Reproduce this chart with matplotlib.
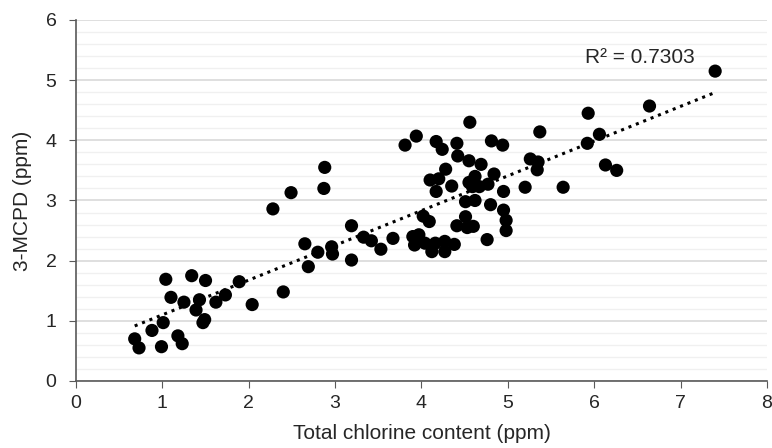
import matplotlib.pyplot as plt
from matplotlib.ticker import MultipleLocator
import numpy as np

plt.rcParams['font.family'] = ['Liberation Sans', 'DejaVu Sans']

# Total chlorine content (ppm)
chlorine = [
    0.68, 0.73, 0.88, 1.01, 0.99, 1.04, 1.10, 1.18, 1.23, 1.25, 1.34, 1.39,
    1.43, 1.47, 1.49, 1.50, 1.62, 1.73, 1.89, 2.04, 2.40, 2.65, 2.69,
    2.28, 2.49, 2.88, 2.87, 2.80, 2.96, 2.97, 3.19, 3.19, 3.33, 3.42, 3.53,
    3.67,
    3.81, 3.94, 4.17, 4.24, 4.41, 4.42, 4.55, 4.69, 4.56, 4.81, 4.94, 4.28,
    4.10, 4.20, 4.17, 4.35, 4.62, 4.59, 4.67, 4.77, 4.84, 4.95, 4.55,
    4.51, 4.62, 4.80, 4.95, 4.98, 4.98, 4.02, 4.09, 4.51, 4.41, 4.53, 4.60,
    4.76, 3.90, 3.97, 3.92, 4.04, 4.12, 4.16, 4.27, 4.27, 4.38,
    5.20, 5.26, 5.35, 5.34, 5.37, 5.64, 5.93, 5.92, 6.06, 6.13, 6.26,
    6.64, 7.40,
]
# 3-MCPD (ppm)
mcpd = [
    0.70, 0.55, 0.84, 0.97, 0.57, 1.69, 1.39, 0.75, 0.62, 1.31, 1.75, 1.18,
    1.35, 0.97, 1.02, 1.67, 1.31, 1.43, 1.65, 1.27, 1.48, 2.28, 1.90,
    2.86, 3.13, 3.55, 3.20, 2.14, 2.23, 2.11, 2.01, 2.58, 2.39, 2.33, 2.19,
    2.37,
    3.92, 4.07, 3.98, 3.85, 3.95, 3.74, 3.66, 3.60, 4.30, 3.99, 3.92, 3.52,
    3.34, 3.36, 3.15, 3.24, 3.40, 3.23, 3.23, 3.27, 3.44, 3.15, 3.30,
    2.98, 3.00, 2.93, 2.84, 2.67, 2.50, 2.74, 2.65, 2.73, 2.58, 2.55, 2.57,
    2.35, 2.40, 2.43, 2.26, 2.29, 2.15, 2.29, 2.32, 2.15, 2.27,
    3.22, 3.69, 3.64, 3.51, 4.14, 3.22, 4.45, 3.95, 4.10, 3.59, 3.50,
    4.57, 5.15,
]
r2_label = 'R² = 0.7303'

x = np.array(chlorine)
y = np.array(mcpd)

fig = plt.figure(figsize=(7.72, 4.48), dpi=100)
ax = fig.add_axes([0.0984, 0.1496, 0.8951, 0.8058])

# Linear trendline
slope, intercept = np.polyfit(x, y, 1)
xt = np.array([x.min(), x.max()])
ax.plot(xt, slope * xt + intercept, color='black', linestyle=(0, (1, 1.6)),
        linewidth=2.2, zorder=2)

ax.scatter(x, y, s=90, color='black', edgecolors='none', zorder=3)

ax.text(5.89, 5.38, r2_label, fontsize=15, color='#262626', va='center')

ax.set_xlim(0, 8)
ax.set_ylim(0, 6)
ax.xaxis.set_major_locator(MultipleLocator(1))
ax.yaxis.set_major_locator(MultipleLocator(1))
ax.yaxis.set_minor_locator(MultipleLocator(0.2))

ax.grid(axis='y', which='minor', color='#f0f0f0', linewidth=1, zorder=0)
ax.grid(axis='y', which='major', color='#d9d9d9', linewidth=1.2, zorder=0)
ax.set_axisbelow(True)

for side in ['top', 'right']:
    ax.spines[side].set_visible(False)
for side in ['left', 'bottom']:
    ax.spines[side].set_color('#595959')
    ax.spines[side].set_linewidth(1.2)

ax.tick_params(axis='both', which='major', direction='out', length=5,
               color='#595959', labelsize=14, labelcolor='#262626')
ax.tick_params(axis='x', which='major', pad=5)
ax.tick_params(axis='y', which='major', pad=9)
ax.tick_params(axis='y', which='minor', length=0)

ax.set_xlabel('Total chlorine content (ppm)', fontsize=15, color='#262626',
              labelpad=9)
ax.set_ylabel('3-MCPD (ppm)', fontsize=15, color='#262626', labelpad=10)

plt.savefig('out.png', dpi=100)
